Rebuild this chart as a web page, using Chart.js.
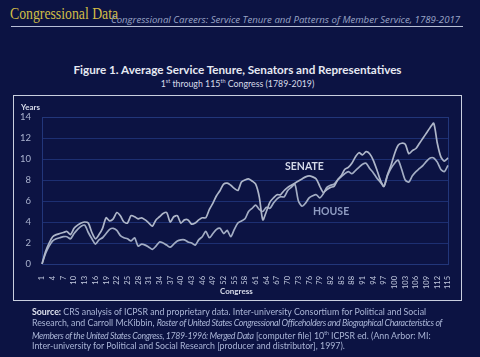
<!DOCTYPE html>
<html><head><meta charset="utf-8">
<script src="https://cdn.jsdelivr.net/npm/chart.js@4/dist/chart.umd.min.js"></script>
<style>
html,body{margin:0;padding:0;}
body{width:480px;height:357px;background:#0c1343;position:relative;overflow:hidden;font-family:Lato,"Open Sans",sans-serif;}
.abs{position:absolute;white-space:nowrap;}
#brand{left:10px;top:5px;font-family:"Liberation Serif","DejaVu Serif",serif;font-size:16px;color:#d2be46;transform:scaleX(0.86);transform-origin:0 0;}
#sub{left:111px;top:13px;font-family:"Open Sans",sans-serif;font-style:italic;font-size:9.65px;color:#9aa5c6;}
#rule{left:11px;top:26px;width:452px;height:1px;background:#b8bfd6;}
#title{left:0;width:475px;text-align:center;top:62px;font-weight:bold;font-size:11.7px;color:#e6e9f2;}
#title2{left:0;width:475px;text-align:center;top:78px;font-size:8.8px;color:#d8dcea;}
#title2 sup{font-size:5.5px;}
#frame{left:13px;top:95px;width:447px;height:204px;border:1.5px solid #c9cfdf;}
#years{left:21px;top:102px;font-weight:bold;font-size:8px;color:#d8dcea;}
#congress{left:220px;top:286px;font-weight:bold;font-size:8px;color:#d8dcea;}
#senate{left:285px;top:160px;font-weight:bold;font-size:10.5px;color:#d4d9e8;}
#house{left:313px;top:205px;font-weight:bold;font-size:10.5px;color:#8f9cc2;}
#src{left:32px;top:307px;font-size:8.8px;line-height:10.5px;color:#aab5d6;}
#src b{color:#e0e4f0;}
#src i{letter-spacing:-0.35px;}
canvas{position:absolute;left:14px;top:96px;}
</style></head>
<body>
<div class="abs" id="brand">Congressional Data</div>
<div class="abs" id="sub">Congressional Careers: Service Tenure and Patterns of Member Service, 1789-2017</div>
<div class="abs" id="rule"></div>
<div class="abs" id="title">Figure 1. Average Service Tenure, Senators and Representatives</div>
<div class="abs" id="title2">1<sup>st</sup> through 115<sup>th</sup> Congress (1789-2019)</div>
<div class="abs" id="frame"></div>
<canvas id="c" width="447" height="203"></canvas>
<div class="abs" id="years">Years</div>
<div class="abs" id="congress">Congress</div>
<div class="abs" id="senate">SENATE</div>
<div class="abs" id="house">HOUSE</div>
<div class="abs" id="src">
<div><b>Source:</b> CRS analysis of ICPSR and proprietary data. Inter-university Consortium for Political and Social</div>
<div>Research, and Carroll McKibbin, <i>Roster of United States Congressional Officeholders and Biographical Characteristics of</i></div>
<div><i>Members of the United States Congress, 1789-1996: Merged Data</i> [computer file] 10<sup style="font-size:5px">th</sup> ICPSR ed. (Ann Arbor: MI:</div>
<div>Inter-university for Political and Social Research [producer and distributor], 1997).</div>
</div>
<script>
const congresses = Array.from({length:115},(_,i)=>String(i+1));
const senate = [0,1.2,2.0,2.6,2.8,2.9,3.0,3.1,2.8,3.4,
3.7,3.9,4.0,3.9,3.0,2.4,2.8,3.4,4.4,4.1,
4.3,4.9,4.6,4.0,3.9,4.6,4.5,4.3,4.4,4.2,
3.9,3.6,4.2,4.5,4.8,4.9,4.0,4.5,4.6,3.9,
4.2,4.2,3.8,3.9,4.2,4.4,4.4,5.2,5.8,6.5,
7.0,7.6,7.7,7.5,7.2,7.0,7.8,8.0,8.1,7.9,
7.6,6.4,4.2,5.0,5.9,6.3,6.6,6.6,7.0,7.3,
7.5,7.7,7.9,8.1,8.3,8.4,8.3,8.1,7.4,6.8,
7.1,7.3,7.4,8.0,8.4,9.0,9.2,9.6,10.2,10.6,
10.4,10.7,10.5,9.9,9.0,8.0,7.4,8.5,9.4,10.5,
11.3,11.5,11.4,10.5,10.8,11.0,11.5,12.0,12.5,13.0,
13.4,11.5,10.2,9.8,10.1];
const house = [0,1.0,1.7,2.2,2.4,2.5,2.6,2.6,2.4,2.9,
3.3,3.6,3.7,3.0,2.4,1.9,2.3,2.5,2.9,3.3,
3.4,3.2,2.7,2.5,2.4,2.2,2.5,1.7,1.9,1.8,
1.6,1.4,1.7,2.1,2.0,1.8,1.6,1.9,2.2,2.3,
2.3,2.1,2.0,1.8,2.3,2.6,3.1,2.5,2.9,3.3,
3.4,2.9,3.2,2.6,3.3,3.9,4.1,4.3,5.0,5.3,
5.6,5.2,5.0,5.4,5.3,5.8,6.2,6.4,6.4,7.0,
7.3,7.6,6.0,5.5,5.8,6.3,6.5,6.6,6.3,6.7,
7.3,7.5,7.6,8.0,8.3,8.6,8.8,8.6,8.9,9.2,
9.5,9.6,9.1,8.7,8.2,7.8,7.4,8.4,9.1,9.6,
9.9,9.0,8.0,7.8,8.4,8.8,9.1,9.4,9.8,10.1,
10.1,9.7,9.0,8.8,9.4];
const yTicks = [0,2,4,6,8,10,12,14];

const frameBox = {
  id:'frameBox',
  beforeDatasetsDraw(chart){
    const a=chart.chartArea, ctx=chart.ctx;
    ctx.save(); ctx.strokeStyle='#22367a'; ctx.lineWidth=1;
    ctx.strokeRect(a.left+0.5,a.top+0.5,a.right-a.left,a.bottom-a.top);
    ctx.restore();
  }
};

new Chart(document.getElementById('c'),{
  type:'line',
  data:{labels:congresses,datasets:[
    {label:'Senate',data:senate,borderColor:'#aeb6c9',borderWidth:1.7,pointRadius:0,tension:0.25,fill:false},
    {label:'House',data:house,borderColor:'#a3adc4',borderWidth:1.7,pointRadius:0,tension:0.25,fill:false}
  ]},
  options:{
    responsive:false,animation:false,
    layout:{padding:{top:21,right:10,left:0,bottom:0}},
    plugins:{legend:{display:false},tooltip:{enabled:false}},
    scales:{
      y:{min:0,max:14,afterFit(s){s.width=28;},
        afterBuildTicks(s){s.ticks=yTicks.map(v=>({value:v}));},
        grid:{color:'#1d2f72',lineWidth:1,drawTicks:false},
        border:{display:false},
        ticks:{padding:11,color:'#aab3cf',font:{family:'Lato',size:9.5}}},
      x:{afterFit(s){s.height=35;},
        grid:{display:false},
        border:{color:'#2a3f88',width:1},
        ticks:{autoSkip:false,maxRotation:90,minRotation:90,padding:4,color:'#c4cbe0',
          font:{family:'Lato',size:7.5},
          callback(v,i){return i%3===0?congresses[i]:'';}}}
    }
  },
  plugins:[frameBox]
});
</script>
</body></html>
